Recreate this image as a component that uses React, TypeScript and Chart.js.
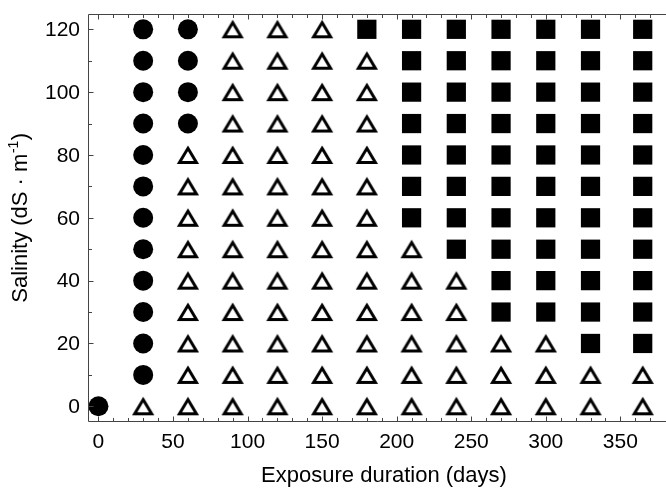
import React, { useEffect, useRef } from "react";
import { Chart, registerables } from "chart.js";

Chart.register(...registerables);

// Exposure durations (days) at which salinity response was scored
const days = [0, 30, 60, 90, 120, 150, 180, 210, 240, 270, 300, 330, 365];
// Salinity levels (dS·m-1)
const salinityLevels = [0, 10, 20, 30, 40, 50, 60, 70, 80, 90, 100, 110, 120];
// Response class per day, one character per salinity level from 0 up to 120
// C = filled circle, T = open triangle, S = filled square, - = not measured
const responses = [
  "C------------",
  "TCCCCCCCCCCCC",
  "TTTTTTTTTCCCC",
  "TTTTTTTTTTTTT",
  "TTTTTTTTTTTTT",
  "TTTTTTTTTTTTT",
  "TTTTTTTTTTTTS",
  "TTTTTTSSSSSSS",
  "TTTTTSSSSSSSS",
  "TTTSSSSSSSSSS",
  "TTTSSSSSSSSSS",
  "TTSSSSSSSSSSS",
  "TTSSSSSSSSSSS",
];

const xTickLabels = [0, 50, 100, 150, 200, 250, 300, 350];
const yTickLabels = [0, 20, 40, 60, 80, 100, 120];
const xMinorTicks = [0, 10, 20, 30, 40, 50, 60, 70, 80, 90, 100, 110, 120, 130, 140, 150, 160, 170, 180, 190, 200, 210, 220, 230, 240, 250, 260, 270, 280, 290, 300, 310, 320, 330, 340, 350, 360, 370];
const yMinorTicks = [0, 10, 20, 30, 40, 50, 60, 70, 80, 90, 100, 110, 120];

const xTitle = "Exposure duration (days)";
const yTitleMain = "Salinity (dS \u00B7 m";
const yTitleSup = "-1";
const yTitleEnd = ")";

const FONT = "'Liberation Sans', Arial, Helvetica, sans-serif";

function pointsFor(code: string) {
  const pts: { x: number; y: number }[] = [];
  days.forEach((d, i) => {
    salinityLevels.forEach((s, j) => {
      if (responses[i][j] === code) pts.push({ x: d, y: s });
    });
  });
  return pts;
}

function makeTriangle(): HTMLCanvasElement {
  const c = document.createElement("canvas");
  c.width = 24;
  c.height = 22;
  const g = c.getContext("2d")!;
  const cx = 12;
  const cy = 11.5;
  g.beginPath();
  g.moveTo(cx, cy - 7.2);
  g.lineTo(cx + 8.5, cy + 7);
  g.lineTo(cx - 8.5, cy + 7);
  g.closePath();
  g.fillStyle = "#ffffff";
  g.fill();
  g.lineWidth = 3;
  g.lineJoin = "miter";
  g.strokeStyle = "#000000";
  g.stroke();
  return c;
}

const framePlugin = {
  id: "frame",
  afterDraw(chart: any) {
    const ctx = chart.ctx as CanvasRenderingContext2D;
    const a = chart.chartArea;
    const xs = chart.scales.x;
    const ys = chart.scales.y;
    ctx.save();
    ctx.strokeStyle = "#444";
    ctx.lineWidth = 1;
    const L = Math.round(a.left) + 0.5;
    const T = Math.round(a.top) + 0.5;
    const B = Math.round(a.bottom) - 0.5;
    const W = chart.width;
    ctx.beginPath();
    ctx.moveTo(W, T);
    ctx.lineTo(L, T);
    ctx.lineTo(L, B);
    ctx.lineTo(W, B);
    ctx.stroke();
    // ticks
    ctx.beginPath();
    xMinorTicks.forEach((v) => {
      const px = Math.round(xs.getPixelForValue(v)) + 0.5;
      const len = v % 50 === 0 ? 5 : 3.5;
      ctx.moveTo(px, B);
      ctx.lineTo(px, B - len);
      ctx.moveTo(px, T);
      ctx.lineTo(px, T + len);
    });
    yMinorTicks.forEach((v) => {
      const py = Math.round(ys.getPixelForValue(v)) + 0.5;
      const len = v % 20 === 0 ? 5 : 3.5;
      ctx.moveTo(L, py);
      ctx.lineTo(L + len, py);
    });
    ctx.stroke();

    // tick labels
    ctx.fillStyle = "#000";
    ctx.font = `21px ${FONT}`;
    ctx.textAlign = "center";
    ctx.textBaseline = "middle";
    xTickLabels.forEach((v) => {
      ctx.fillText(String(v), xs.getPixelForValue(v), a.bottom + 20);
    });
    ctx.textAlign = "right";
    yTickLabels.forEach((v) => {
      ctx.fillText(String(v), a.left - 8, ys.getPixelForValue(v) + 1);
    });

    // x title
    ctx.font = `22px ${FONT}`;
    ctx.textAlign = "center";
    ctx.fillText(xTitle, 384, 476);

    // y title with superscript
    ctx.save();
    const cy = (a.top + a.bottom) / 2;
    ctx.translate(21, cy);
    ctx.rotate(-Math.PI / 2);
    ctx.textAlign = "left";
    ctx.font = `22px ${FONT}`;
    const w1 = ctx.measureText(yTitleMain).width;
    const w3 = ctx.measureText(yTitleEnd).width;
    ctx.font = `14px ${FONT}`;
    const w2 = ctx.measureText(yTitleSup).width;
    const total = w1 + w2 + w3 + 1;
    const x0 = -total / 2;
    ctx.font = `22px ${FONT}`;
    ctx.fillText(yTitleMain, x0, 0);
    ctx.font = `14px ${FONT}`;
    ctx.fillText(yTitleSup, x0 + w1 + 0.5, -7);
    ctx.font = `22px ${FONT}`;
    ctx.fillText(yTitleEnd, x0 + w1 + w2 + 1, 0);
    ctx.restore();

    ctx.restore();
  },
};

export default function App() {
  const ref = useRef<HTMLCanvasElement | null>(null);
  useEffect(() => {
    if (!ref.current) return;
    const tri = makeTriangle();
    const chart = new Chart(ref.current, {
      type: "scatter",
      data: {
        datasets: [
          {
            label: "circle",
            data: pointsFor("C"),
            pointStyle: "circle",
            pointRadius: 10,
            pointBackgroundColor: "#000",
            pointBorderColor: "#000",
            pointBorderWidth: 0,
          },
          {
            label: "triangle",
            data: pointsFor("T"),
            pointStyle: tri as any,
            pointRadius: 10,
          },
          {
            label: "square",
            data: pointsFor("S"),
            pointStyle: "rect",
            pointRadius: 13.6,
            pointBackgroundColor: "#000",
            pointBorderColor: "#000",
            pointBorderWidth: 0,
          },
        ],
      },
      options: {
        responsive: false,
        animation: false,
        clip: false as any,
        layout: { padding: { top: 12, left: 0, right: 0, bottom: 0 } },
        plugins: {
          legend: { display: false },
          tooltip: { enabled: false },
        },
        scales: {
          x: {
            type: "linear",
            min: -7,
            max: 371.5,
            grid: { display: false, drawTicks: false },
            border: { display: false },
            ticks: { display: false },
            afterFit: (s: any) => {
              s.height = 67;
            },
          },
          y: {
            type: "linear",
            min: -5,
            max: 125,
            grid: { display: false, drawTicks: false },
            border: { display: false },
            ticks: { display: false },
            afterFit: (s: any) => {
              s.width = 88;
            },
          },
        },
      },
      plugins: [framePlugin],
    });
    return () => chart.destroy();
  }, []);
  return (
    <div
      style={{
        position: "absolute",
        left: 0,
        top: 0,
        width: 666,
        height: 489,
        overflow: "hidden",
        background: "#fff",
      }}
    >
      <canvas ref={ref} width={666} height={489} style={{ display: "block" }} />
    </div>
  );
}
